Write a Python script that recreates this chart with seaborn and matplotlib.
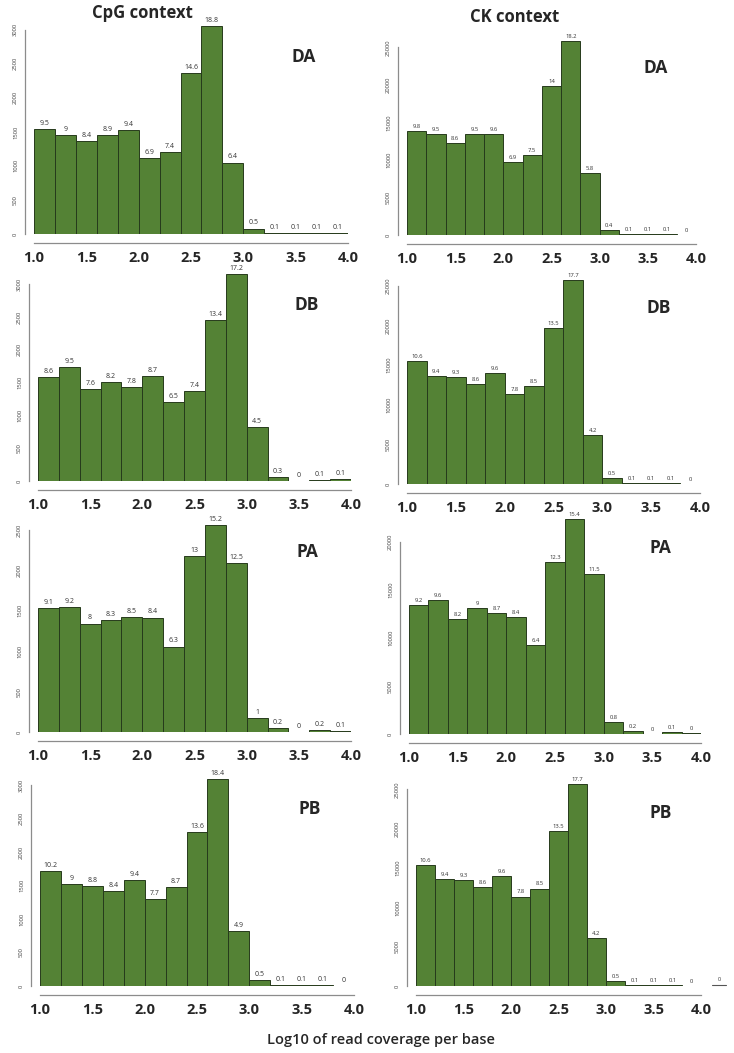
import numpy as np
import matplotlib
matplotlib.use("Agg")
import matplotlib.pyplot as plt
import seaborn as sns

# bins of log10 coverage
BIN_EDGES = [1.0, 1.2, 1.4, 1.6, 1.8, 2.0, 2.2, 2.4, 2.6, 2.8, 3.0, 3.2, 3.4, 3.6, 3.8, 4.0]

# counts, one list per panel
cpg_da = [1540, 1460, 1370, 1460, 1530, 1120, 1210, 2370, 3060, 1050, 80, 15, 20, 20, 15]
cpg_db = [1580, 1740, 1395, 1510, 1425, 1600, 1200, 1370, 2450, 3157, 824, 56, 5, 15, 25]
cpg_pa = [1536, 1553, 1343, 1388, 1429, 1417, 1058, 2183, 2558, 2096, 169, 45, 3, 29, 16]
cpg_pb = [1711, 1522, 1488, 1423, 1582, 1294, 1478, 2294, 3095, 826, 85, 15, 15, 20, 2]
ck_da = [13870, 13500, 12200, 13500, 13500, 9700, 10600, 19800, 25800, 8260, 600, 100, 150, 100, 50]
ck_db = [15460, 13660, 13490, 12560, 14030, 11390, 12390, 19700, 25700, 6130, 700, 150, 150, 150, 50]
ck_pa = [13380, 13970, 11960, 13070, 12580, 12170, 9250, 17920, 22360, 16670, 1210, 350, 30, 240, 70]
ck_pb = [15440, 13620, 13490, 12560, 14040, 11380, 12390, 19670, 25680, 6130, 680, 150, 150, 150, 50]

# percentage labels printed above the bars
pct_cpg_da = ["9.5", "9", "8.4", "8.9", "9.4", "6.9", "7.4", "14.6", "18.8", "6.4", "0.5", "0.1", "0.1", "0.1", "0.1"]
pct_cpg_db = ["8.6", "9.5", "7.6", "8.2", "7.8", "8.7", "6.5", "7.4", "13.4", "17.2", "4.5", "0.3", "0", "0.1", "0.1"]
pct_cpg_pa = ["9.1", "9.2", "8", "8.3", "8.5", "8.4", "6.3", "13", "15.2", "12.5", "1", "0.2", "0", "0.2", "0.1"]
pct_cpg_pb = ["10.2", "9", "8.8", "8.4", "9.4", "7.7", "8.7", "13.6", "18.4", "4.9", "0.5", "0.1", "0.1", "0.1", "0"]
pct_ck_da = ["9.8", "9.5", "8.6", "9.5", "9.6", "6.9", "7.5", "14", "18.2", "5.8", "0.4", "0.1", "0.1", "0.1", "0"]
pct_ck_db = ["10.6", "9.4", "9.3", "8.6", "9.6", "7.8", "8.5", "13.5", "17.7", "4.2", "0.5", "0.1", "0.1", "0.1", "0"]
pct_ck_pa = ["9.2", "9.6", "8.2", "9", "8.7", "8.4", "6.4", "12.3", "15.4", "11.5", "0.8", "0.2", "0", "0.1", "0"]
pct_ck_pb = ["10.6", "9.4", "9.3", "8.6", "9.6", "7.8", "8.5", "13.5", "17.7", "4.2", "0.5", "0.1", "0.1", "0.1", "0"]

samples = ["DA", "DB", "PA", "PB"]
cpg_counts = [cpg_da, cpg_db, cpg_pa, cpg_pb]
ck_counts = [ck_da, ck_db, ck_pa, ck_pb]
cpg_pcts = [pct_cpg_da, pct_cpg_db, pct_cpg_pa, pct_cpg_pb]
ck_pcts = [pct_ck_da, pct_ck_db, pct_ck_pa, pct_ck_pb]
cpg_yticks = [3000, 3000, 2500, 3000]
ck_yticks = [25000, 25000, 20000, 25000]
xticks = [1.0, 1.5, 2.0, 2.5, 3.0, 3.5, 4.0]

W, H = 734, 1053
GREEN = "#548235"
EDGE = "#263a1c"
GREY = "#8c8c8c"

# panel boxes in pixels: x_left, x_right, y_top, y_zero, ylim_top
cpg_boxes = [(34, 348, 23, 234, 3100), (38, 351, 271, 481, 3200),
             (38, 351, 518, 732, 2650), (40, 354, 775, 986, 3150)]
ck_boxes = [(407, 696, 36, 235, 26500), (407, 700, 274, 484, 26500),
            (409, 701, 513, 734, 23000), (416, 701, 780, 986, 26200)]

sns.set_style("white")
plt.rcParams["font.family"] = ["Open Sans", "DejaVu Sans"]

fig = plt.figure(figsize=(W / 100, H / 100), dpi=100)


def panel(box, counts, pcts, ymax_tick, name, small):
    x0, x1, yt, yb, ylim_top = box
    ax = fig.add_axes([x0 / W, 1 - yb / H, (x1 - x0) / W, (yb - yt) / H])
    centers = [(a + b) / 2 for a, b in zip(BIN_EDGES[:-1], BIN_EDGES[1:])]
    sns.histplot(x=centers, weights=counts, bins=BIN_EDGES, ax=ax,
                 color=GREEN, edgecolor=EDGE, linewidth=0.7, alpha=1)
    # spines first: moving them resets the tick labels
    for s in ["top", "right"]:
        ax.spines[s].set_visible(False)
    ax.spines["bottom"].set_position(("outward", 6.5))
    ax.spines["left"].set_position(("outward", 6.5))
    ax.set_xlim(1.0, 4.0)
    ax.set_ylim(0, ylim_top)
    ax.spines["bottom"].set_bounds(1.0, 4.0)
    ax.spines["left"].set_bounds(0, ymax_tick)
    for s in ["bottom", "left"]:
        ax.spines[s].set_color(GREY)
        ax.spines[s].set_linewidth(0.9)
    ax.set_xlabel("")
    ax.set_ylabel("")
    step = 500 if ymax_tick <= 3000 else 5000
    ax.set_yticks(np.arange(0, ymax_tick + 1, step))
    ax.set_xticks(xticks)
    ax.set_xticklabels([f"{t:.1f}" for t in xticks])
    ax.tick_params(axis="x", length=3, width=0.7, color=GREY, pad=3,
                   labelsize=10.5)
    ax.tick_params(axis="y", length=3, width=0.7, color=GREY, pad=2,
                   labelsize=4.2, labelcolor="#444444", labelrotation=90)
    for lab in ax.get_xticklabels():
        lab.set_fontweight("bold")
    for lab in ax.get_yticklabels():
        lab.set_va("center")
    for c, v, p in zip(centers, counts, pcts):
        ax.annotate(p, (c, v), xytext=(0, 1.5), textcoords="offset points",
                    ha="center", va="bottom",
                    fontsize=4.2 if small else 5, color="#333333")
    ax.text(0.86, 0.84, name, transform=ax.transAxes, ha="center",
            va="center", fontsize=12.5, fontweight="bold")
    return ax


for i in range(4):
    panel(cpg_boxes[i], cpg_counts[i], cpg_pcts[i], cpg_yticks[i], samples[i], False)
    panel(ck_boxes[i], ck_counts[i], ck_pcts[i], ck_yticks[i], samples[i], True)

# stray label at the right edge of the last panel
fig.text(719 / W, 1 - 981 / H, "0", fontsize=4, ha="center", color="#333333")
fig.add_artist(plt.Line2D([712 / W, 726 / W], [1 - 985 / H, 1 - 985 / H],
                          color="#555555", lw=0.8))

fig.text(142 / W, 1 - 13 / H, "CpG context", ha="center", va="center",
         fontsize=12, fontweight="bold")
fig.text(515 / W, 1 - 17 / H, "CK context", ha="center", va="center",
         fontsize=12, fontweight="bold")
fig.text(381 / W, 1 - 1040 / H, "Log10 of read coverage per base",
         ha="center", va="center", fontsize=10.5, fontweight="semibold")

fig.savefig("out.png", dpi=100)
